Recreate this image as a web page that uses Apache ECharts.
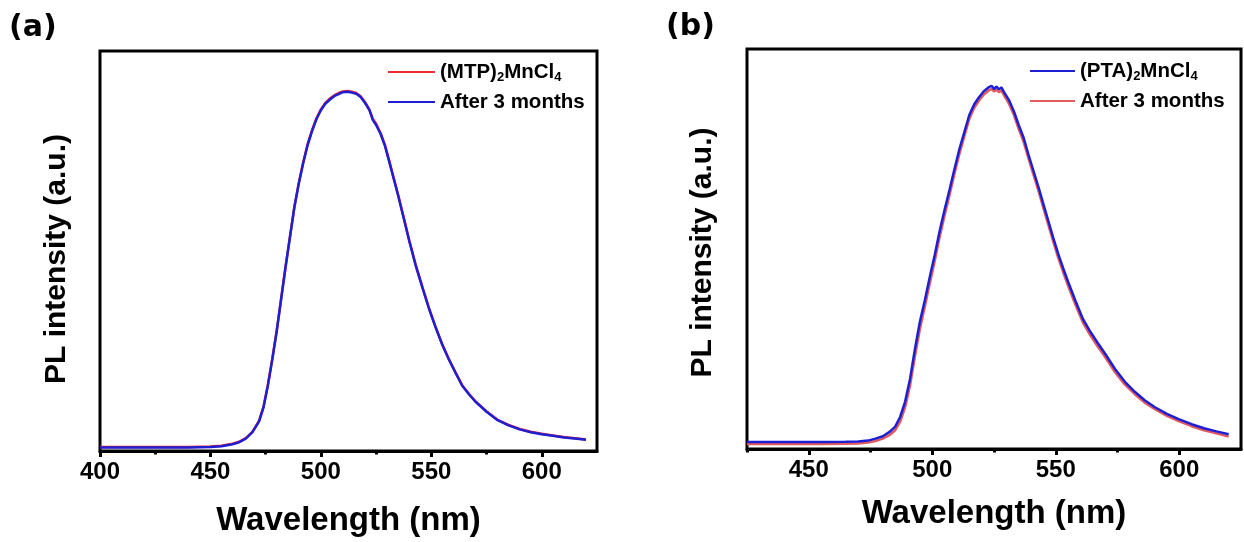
<!DOCTYPE html>
<html>
<head>
<meta charset="utf-8">
<script src="https://cdn.jsdelivr.net/npm/echarts@6/dist/echarts.min.js"></script>
<style>html,body{margin:0;padding:0;background:#fff}#c{width:1244px;height:542px}</style>
</head>
<body>
<div id="c"></div>
<script>
// ---- Panel (a) data ----
const wlA = [400,420,440,450,455,460,463,466,469,472,474,476,478,480,482,484,486,488,490,492,494,496,498,500,502,504,506,508,510,512,514,516,518,520,522,523.5,525,527,529,531,533,535,537,540,543,546,549,552,555,558,561,564,567,570,575,580,585,590,595,600,605,610,615,620];
const mtpFresh = [0.010,0.010,0.010,0.011,0.013,0.018,0.023,0.032,0.048,0.075,0.110,0.165,0.230,0.300,0.380,0.460,0.535,0.610,0.670,0.722,0.767,0.802,0.832,0.854,0.870,0.881,0.889,0.895,0.899,0.900,0.898,0.895,0.887,0.872,0.853,0.830,0.818,0.795,0.765,0.724,0.682,0.640,0.595,0.527,0.464,0.409,0.356,0.309,0.266,0.229,0.196,0.164,0.143,0.124,0.099,0.078,0.065,0.055,0.048,0.043,0.039,0.035,0.032,0.029];
const mtpAged  = [0.009,0.009,0.009,0.010,0.012,0.017,0.022,0.031,0.047,0.074,0.109,0.164,0.229,0.300,0.380,0.460,0.535,0.610,0.669,0.720,0.765,0.800,0.830,0.852,0.868,0.878,0.887,0.892,0.897,0.898,0.896,0.893,0.885,0.870,0.852,0.828,0.815,0.793,0.763,0.722,0.680,0.638,0.593,0.525,0.462,0.408,0.355,0.308,0.265,0.228,0.195,0.163,0.142,0.123,0.098,0.077,0.064,0.054,0.047,0.042,0.038,0.034,0.031,0.028];

// ---- Panel (b) data ----
const wlB = [425,440,455,465,470,474,477,480,483,485,487,489,491,493,495,497,499,501,503,505,507,509,511,513,515,517,519,521,523,524,525,526,527,528,529,531,533,535,537,539,541,543,545,547,549,551,553,555,558,561,564,567,570,574,578,582,586,590,595,600,605,610,615,620];
const ptaFresh = [0.0175,0.0175,0.0175,0.018,0.019,0.021,0.026,0.032,0.044,0.056,0.080,0.118,0.175,0.250,0.318,0.372,0.430,0.485,0.545,0.598,0.648,0.700,0.750,0.792,0.835,0.862,0.880,0.895,0.905,0.908,0.900,0.906,0.899,0.904,0.893,0.873,0.845,0.810,0.778,0.735,0.695,0.655,0.612,0.570,0.528,0.488,0.452,0.418,0.370,0.325,0.293,0.265,0.238,0.200,0.168,0.143,0.122,0.105,0.088,0.074,0.062,0.052,0.044,0.037];
const ptaAged  = [0.0125,0.0125,0.0125,0.013,0.014,0.016,0.020,0.026,0.036,0.047,0.068,0.104,0.158,0.232,0.300,0.356,0.414,0.470,0.530,0.584,0.635,0.688,0.738,0.782,0.825,0.853,0.872,0.887,0.897,0.900,0.894,0.898,0.892,0.896,0.885,0.864,0.836,0.800,0.768,0.725,0.685,0.645,0.602,0.560,0.518,0.478,0.442,0.408,0.360,0.316,0.284,0.256,0.230,0.192,0.161,0.137,0.116,0.100,0.083,0.069,0.057,0.047,0.039,0.031];

const ticksA = [400,450,500,550,600];
const minorA = [425,475,525,575];
const ticksB = [450,500,550,600];
const minorB = [425,475,525,575];

const FONT = 'Liberation Sans, Arial, sans-serif';
const RED_A = '#ee2a34', BLUE = '#1e1ed2', RED_B = '#e25a5e';

function pairs(x, y){ return x.map((v,i)=>[v,y[i]]); }

const legendRich = {
  m: {fontSize: 20.5, fontWeight: 'bold', fontFamily: FONT, color: '#000', lineHeight: 24},
  s: {fontSize: 13, fontWeight: 'bold', fontFamily: FONT, color: '#000', verticalAlign: 'bottom'}
};
const legendNames = {
  'MTP': '{m|(MTP)}{s|2}{m|MnCl}{s|4}',
  'MTP aged': '{m|After 3 months}',
  'PTA': '{m|(PTA)}{s|2}{m|MnCl}{s|4}',
  'PTA aged': '{m|After 3 months}'
};

function xMain(grid, min, max, ticks, gap){
  return {
    type: 'value', gridIndex: grid, min: min, max: max,
    name: 'Wavelength (nm)', nameLocation: 'middle', nameGap: gap,
    nameTextStyle: {fontSize: 33, fontWeight: 'bold', color: '#000', fontFamily: FONT},
    axisLine: {show: true, lineStyle: {color: '#000', width: 3}},
    axisTick: {show: true, inside: false, length: 6, lineStyle: {color: '#000', width: 3}, customValues: ticks},
    axisLabel: {show: true, customValues: ticks, margin: 9, fontSize: 24, fontWeight: 'bold', color: '#000', fontFamily: FONT},
    splitLine: {show: false}
  };
}
function xMinor(grid, min, max, ticks){
  return {
    type: 'value', gridIndex: grid, min: min, max: max, position: 'bottom',
    axisLine: {show: false},
    axisTick: {show: true, inside: false, length: 3.5, lineStyle: {color: '#000', width: 3}, customValues: ticks},
    axisLabel: {show: false},
    splitLine: {show: false}
  };
}
function yAx(grid, gap, shift){
  return {
    type: 'value', gridIndex: grid, min: 0, max: 1,
    name: 'PL intensity (a.u.)', nameLocation: 'middle', nameGap: gap, nameRotate: 90,
    nameTextStyle: {fontSize: 30, fontWeight: 'bold', color: '#000', fontFamily: FONT, padding: [0, shift, 0, 0]},
    axisLine: {show: false}, axisTick: {show: false}, axisLabel: {show: false}, splitLine: {show: false}
  };
}
function line(name, xi, yi, data, color, z){
  return {
    name: name, type: 'line', xAxisIndex: xi, yAxisIndex: yi, data: data,
    showSymbol: false, symbol: 'none', smooth: false, z: z, animation: false,
    lineStyle: {color: color, width: 2.5}, itemStyle: {color: color}
  };
}

const chart = echarts.init(document.getElementById('c'), null, {renderer: 'canvas'});
chart.setOption({
  backgroundColor: '#fff',
  animation: false,
  grid: [
    {left: 100, top: 51, width: 497, height: 400, show: true, borderColor: '#000', borderWidth: 3, backgroundColor: 'transparent'},
    {left: 747, top: 49, width: 494, height: 400, show: true, borderColor: '#000', borderWidth: 3, backgroundColor: 'transparent'}
  ],
  xAxis: [ xMain(0, 400, 625, ticksA, 53), xMinor(0, 400, 625, minorA), xMain(1, 425, 625, ticksB, 48), xMinor(1, 425, 625, minorB) ],
  yAxis: [ yAx(0, 28, 16), yAx(1, 29, 7) ],
  legend: [
    {data: ['MTP', 'MTP aged'], orient: 'vertical', left: 388, top: 60, itemWidth: 47, itemHeight: 2, itemGap: 6, icon: 'rect', padding: 0,
     formatter: n => legendNames[n], textStyle: {rich: legendRich, lineHeight: 24}, selectedMode: false},
    {data: ['PTA', 'PTA aged'], orient: 'vertical', left: 1030, top: 59, itemWidth: 45, itemHeight: 2, itemGap: 6, icon: 'rect', padding: 0,
     formatter: n => legendNames[n], textStyle: {rich: legendRich, lineHeight: 24}, selectedMode: false}
  ],
  graphic: [
    {type: 'text', left: 9, top: 13, style: {text: '(a)', font: 'bold 30px DejaVu Sans, sans-serif', fill: '#000'}},
    {type: 'text', left: 666, top: 12, style: {text: '(b)', font: 'bold 30px DejaVu Sans, sans-serif', fill: '#000'}}
  ],
  series: [
    line('MTP', 0, 0, pairs(wlA, mtpFresh), RED_A, 2),
    line('MTP aged', 0, 0, pairs(wlA, mtpAged), BLUE, 3),
    line('PTA aged', 2, 1, pairs(wlB, ptaAged), RED_B, 2),
    line('PTA', 2, 1, pairs(wlB, ptaFresh), BLUE, 3)
  ]
});
</script>
</body>
</html>
